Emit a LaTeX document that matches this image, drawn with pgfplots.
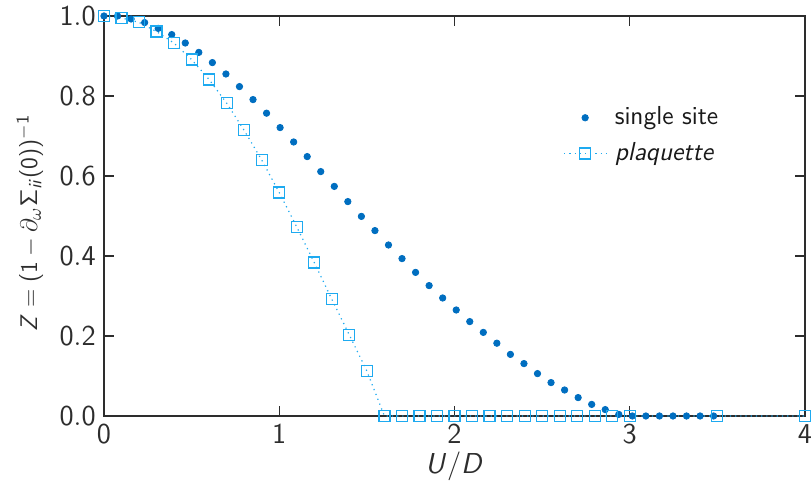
\documentclass[border=0pt,12pt]{standalone}
\usepackage{pgfplots}
\pgfplotsset{compat=1.18}
\renewcommand{\familydefault}{\sfdefault}
\DeclareSymbolFont{operators}{OT1}{cmss}{m}{n}
\SetSymbolFont{operators}{bold}{OT1}{cmss}{bx}{n}
\DeclareMathAlphabet{\mathsfit}{OT1}{cmss}{m}{sl}
\definecolor{ssblue}{RGB}{0,110,192}
\definecolor{pqblue}{RGB}{30,170,240}
\definecolor{axgray}{RGB}{45,45,45}
\begin{document}
\begin{tikzpicture}
\begin{axis}[
  name=ax,
  scale only axis,
  width=350.5pt, height=200pt,
  xmin=0, xmax=4, ymin=0, ymax=1,
  clip=false,
  xtick={0,1,2,3,4},
  ytick={0,0.2,0.4,0.6,0.8,1.0},
  yticklabel style={/pgf/number format/fixed,/pgf/number format/precision=1,/pgf/number format/fixed zerofill},
  tick align=inside,
  major tick length=5pt,
  axis line style={axgray, line width=0.7pt},
  every tick/.style={axgray, line width=0.6pt},
  tick label style={text=axgray, font=\fontsize{14}{16}\selectfont},
  legend style={at={(0.655,0.701)}, anchor=west, draw=none, fill=none, inner sep=0pt,
    font=\fontsize{13}{15}\selectfont, row sep=3pt, text=black!90,
    /tikz/every odd column/.style={column sep=2pt}},
  legend cell align=left,
]
\addplot[only marks, mark=*, mark size=1.6pt, color=ssblue,
  legend image code/.code={\draw[draw=none] (0pt,0pt) -- (21pt,0pt); \draw plot coordinates {(10.5pt,0pt)};}] coordinates {
(0.0000,1.0) (0.0773,1.0) (0.1546,0.9925) (0.2319,0.9835) (0.3092,0.969) (0.3865,0.9535)
(0.4638,0.9325) (0.5411,0.909) (0.6184,0.8835) (0.6957,0.855) (0.7730,0.8235)
(0.8503,0.791) (0.9276,0.757) (1.0049,0.721) (1.0822,0.685) (1.1595,0.6485)
(1.2368,0.611) (1.3141,0.574) (1.3914,0.536) (1.4687,0.499) (1.5460,0.4635)
(1.6233,0.4275) (1.7006,0.3935) (1.7779,0.359) (1.8552,0.326) (1.9325,0.295)
(2.0098,0.265) (2.0871,0.236) (2.1644,0.209) (2.2417,0.182) (2.3190,0.154)
(2.3963,0.131) (2.4736,0.106) (2.5509,0.0835) (2.6282,0.065) (2.7055,0.046)
(2.7828,0.029) (2.8601,0.016) (2.9374,0.004) (3.0147,0.0) (3.0920,0.0)
(3.1693,0.0) (3.2466,0.0) (3.3239,0.0) (3.4012,0.0) (3.4785,0.0)
};
\addlegendentry{single site}
\addplot[dotted, line width=0.6pt, color=pqblue, mark=square, mark size=2.75pt, mark options={solid, line width=0.6pt},
  legend image code/.code={\draw[mark repeat=2,mark phase=2] plot coordinates {(0pt,0pt) (10.5pt,0pt) (21pt,0pt)};}] coordinates {
(0.0,1.0) (0.1,0.995) (0.2,0.984) (0.3,0.961) (0.4,0.932) (0.5,0.891)
(0.6,0.841) (0.7,0.782) (0.8,0.714) (0.9,0.64) (1.0,0.5585) (1.1,0.4725)
(1.2,0.3835) (1.3,0.2918) (1.4,0.2025) (1.5,0.1125) (1.6,0.0) (1.7,0.0)
(1.8,0.0) (1.9,0.0) (2.0,0.0) (2.1,0.0) (2.2,0.0) (2.3,0.0) (2.4,0.0)
(2.5,0.0) (2.6,0.0) (2.7,0.0) (2.8,0.0) (2.9,0.0) (3.0,0.0) (3.5,0.0) (4.0,0.0)
};
\addlegendentry{\textit{plaquette}}
\end{axis}
\node[text=axgray, font=\fontsize{14}{16}\selectfont, anchor=center] at ([yshift=-25pt]ax.south) {$\mathsfit{U}/\mathsfit{D}$};
\node[text=axgray, font=\fontsize{13}{16}\selectfont, rotate=90, anchor=center] at ([xshift=-37pt,yshift=-3.5pt]ax.west) {$\mathsfit{Z}=(1-\partial_\omega\Sigma_{\mathsfit{ii}}(0))^{-1}$};
\pgfresetboundingbox
\path[use as bounding box] ([xshift=-52pt,yshift=-37pt]ax.south west) rectangle ([xshift=3pt,yshift=8pt]ax.north east);
\end{tikzpicture}
\end{document}
